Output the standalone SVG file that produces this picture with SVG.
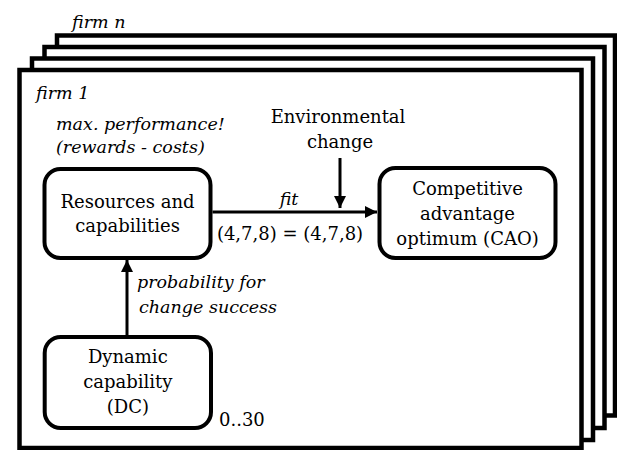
<svg xmlns="http://www.w3.org/2000/svg" width="617" height="450" viewBox="0 0 617 450">
<style>
.frame{fill:#fff;stroke:#000;stroke-width:4.5}
.box{fill:#fff;stroke:#000;stroke-width:4}
.c{text-anchor:middle}
.edge{stroke:#000;stroke-width:3;fill:none}
</style>
<defs>
<marker id="ah" markerUnits="userSpaceOnUse" viewBox="0 0 12 12" refX="12" refY="6" markerWidth="12" markerHeight="12" orient="auto">
<path d="M0,0 L12,6 L0,12 z" fill="#000"/>
</marker>
</defs>
<g id="frames">
<rect class="frame" x="57" y="35.5" width="558" height="380"/>
<rect class="frame" x="44.5" y="47" width="560" height="381"/>
<rect class="frame" x="32" y="58.5" width="561" height="381.5"/>
<rect class="frame" x="19.5" y="70" width="562" height="378"/>
</g>
<g id="frame-labels" font-family="DejaVu Serif" font-size="17.5" font-style="italic" fill="#000">
<text x="72" y="28">firm n</text>
<text x="36" y="99">firm 1</text>
<text x="56" y="130">max. performance!</text>
<text x="56" y="153">(rewards - costs)</text>
</g>
<g id="env-label" font-family="DejaVu Serif" font-size="18" fill="#000" text-anchor="middle">
<text x="338" y="123">Environmental</text>
<text x="340" y="148">change</text>
</g>
<g id="resources" font-family="DejaVu Serif" font-size="18" fill="#000">
<rect class="box" x="44.5" y="169" width="166" height="89" rx="16"/>
<text class="c" x="127.5" y="208">Resources and</text>
<text class="c" x="127.5" y="232">capabilities</text>
</g>
<g id="cao" font-family="DejaVu Serif" font-size="18" fill="#000">
<rect class="box" x="379.5" y="168" width="176" height="90" rx="16"/>
<text class="c" x="467.5" y="195">Competitive</text>
<text class="c" x="467.5" y="220">advantage</text>
<text class="c" x="467.5" y="245">optimum (CAO)</text>
</g>
<g id="dc" font-family="DejaVu Serif" font-size="18" fill="#000">
<rect class="box" x="44.7" y="337" width="166.3" height="91" rx="16"/>
<text class="c" x="127.8" y="363">Dynamic</text>
<text class="c" x="127.8" y="388">capability</text>
<text class="c" x="127.8" y="413">(DC)</text>
<text x="219" y="426">0..30</text>
</g>
<g id="connectors" font-family="DejaVu Serif" fill="#000">
<line class="edge" x1="212.5" y1="212" x2="377" y2="212" marker-end="url(#ah)"/>
<line class="edge" x1="340" y1="158" x2="340" y2="208" marker-end="url(#ah)"/>
<line class="edge" x1="127" y1="335" x2="127" y2="260" marker-end="url(#ah)"/>
<text font-size="17.5" font-style="italic" text-anchor="middle" x="289" y="205">fit</text>
<text font-size="18" text-anchor="middle" x="290" y="240">(4,7,8) = (4,7,8)</text>
<text font-size="17.5" font-style="italic" x="137" y="288">probability for</text>
<text font-size="17.5" font-style="italic" x="139" y="313">change success</text>
</g>
</svg>
